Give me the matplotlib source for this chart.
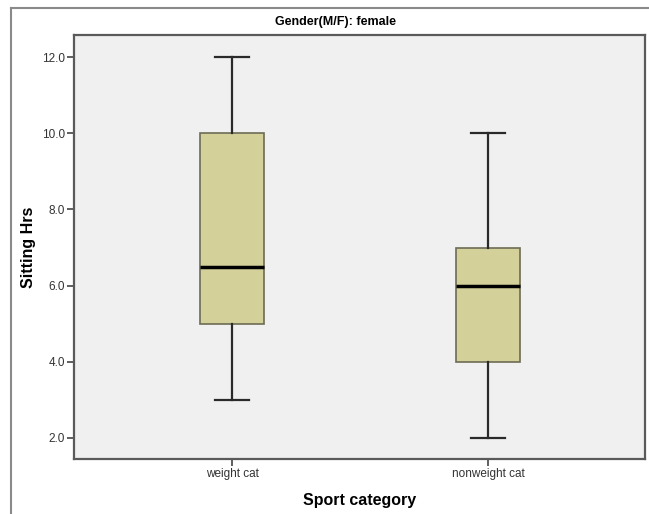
import matplotlib.pyplot as plt
from matplotlib.lines import Line2D

# data
categories = ['weight cat', 'nonweight cat']
whislo = [3.0, 2.0]
q1 = [5.0, 4.0]
med = [6.5, 6.0]
q3 = [10.0, 7.0]
whishi = [12.0, 10.0]
yticks = [2.0, 4.0, 6.0, 8.0, 10.0, 12.0]

plt.rcParams['font.family'] = ['Liberation Sans', 'DejaVu Sans']

W, H = 649, 514
fig = plt.figure(figsize=(W / 100, H / 100), dpi=100)
fig.patch.set_facecolor('white')

# outer frame (only left and top visible)
fig.add_artist(Line2D([11 / W, 11 / W], [0, 1 - 8 / H], transform=fig.transFigure, color='#8a8a8a', lw=1.5))
fig.add_artist(Line2D([11 / W, 1], [1 - 8 / H, 1 - 8 / H], transform=fig.transFigure, color='#8a8a8a', lw=1.5))

left, right, top, bottom = 74, 645, 35, 459
ax = fig.add_axes([left / W, 1 - bottom / H, (right - left) / W, (bottom - top) / H])
ax.set_facecolor('#f0f0f0')

stats = []
for i, c in enumerate(categories):
    stats.append(dict(label=c, whislo=whislo[i], q1=q1[i], med=med[i], q3=q3[i], whishi=whishi[i], fliers=[]))

pos = list(range(1, len(categories) + 1))
ax.bxp(stats, positions=pos, widths=0.25, capwidths=0.13, patch_artist=True, showfliers=False,
       boxprops=dict(facecolor='#d3d09a', edgecolor='#6e6c55', linewidth=1.2),
       medianprops=dict(color='black', linewidth=2.5),
       whiskerprops=dict(color='#2a2a2a', linewidth=1.6),
       capprops=dict(color='#2a2a2a', linewidth=1.6))

ax.set_xlim(1 - (232 - left) / 256, 2 + (right - 488) / 256)
ax.set_ylim(2 - (bottom - 438) / 38.1, 12 + (57 - top) / 38.1)

ax.set_yticks(yticks)
ax.set_yticklabels(['%.1f' % v for v in yticks])
ax.set_xticks(pos)
ax.set_xticklabels(categories)
ax.tick_params(axis='both', direction='out', length=5, width=1.2, color='#444444',
               labelsize=8.5, labelcolor='#333333', pad=1.5)

for s in ax.spines.values():
    s.set_color('#5a5a5a')
    s.set_linewidth(1.6)

ax.set_ylabel('Sitting Hrs', fontsize=11.5, fontweight='bold', labelpad=4)
ax.set_xlabel('Sport category', fontsize=11.5, fontweight='bold', labelpad=9)

fig.text(335 / W, 1 - 22 / H, 'Gender(M/F): female', ha='center', va='center',
         fontsize=9, fontweight='bold', family=['Liberation Sans Narrow', 'Liberation Sans'])

fig.savefig('out.png', dpi=100)
